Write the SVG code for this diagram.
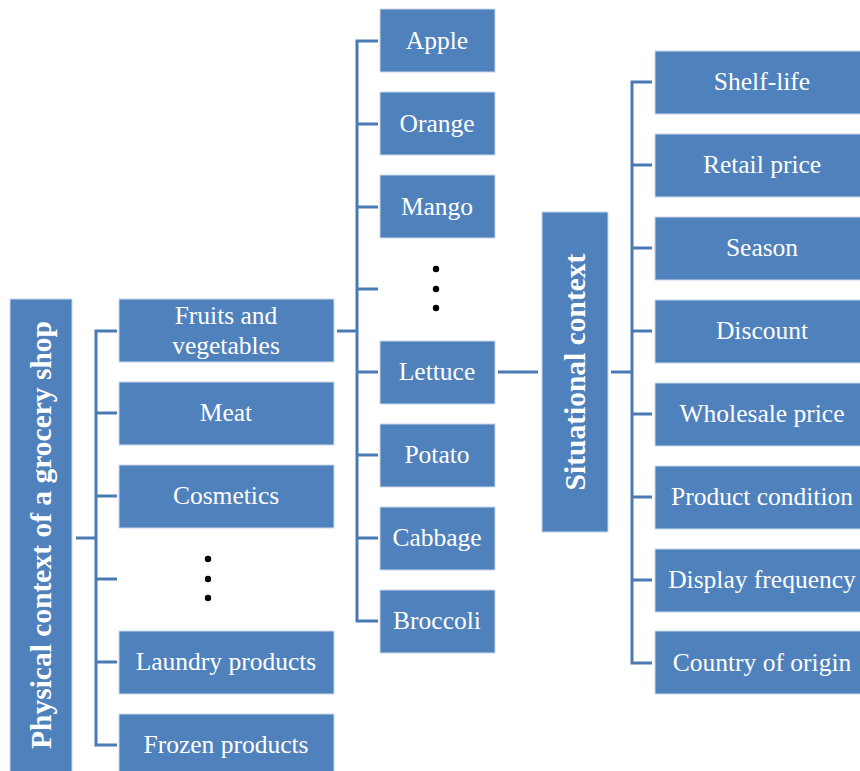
<svg xmlns="http://www.w3.org/2000/svg" width="860" height="771" viewBox="0 0 860 771">
  <style>
    .box { fill: #4f81bd; stroke: #c9d7ea; stroke-width: 1; }
    .lbl { font-family: "Liberation Serif", "Times New Roman", serif; font-size: 25.5px; fill: #ffffff; text-anchor: middle; dominant-baseline: central; }
    .vlbl { font-family: "Liberation Serif", "Times New Roman", serif; font-size: 29.5px; font-weight: bold; fill: #ffffff; text-anchor: middle; dominant-baseline: central; }
    .wire { fill: none; stroke: #4a7ab4; stroke-width: 3; }
    .dot { fill: #000000; }
  </style>
  <rect width="860" height="771" fill="#ffffff"/>

  <!-- connectors -->
  <g id="connectors">
    <!-- root to categories -->
    <path class="wire" d="M76 538 H96"/>
    <path class="wire" d="M117 331 H96 V745 H117"/>
    <path class="wire" d="M96 413 H117 M96 496 H117 M96 579 H117 M96 662 H117"/>
    <!-- fruits and vegetables to items -->
    <path class="wire" d="M337 331 H357"/>
    <path class="wire" d="M378 41 H357 V621 H378"/>
    <path class="wire" d="M357 124 H378 M357 207 H378 M357 289 H378 M357 372 H378 M357 455 H378 M357 538 H378"/>
    <!-- lettuce to situational context -->
    <path class="wire" d="M498 372 H538"/>
    <!-- situational context to factors -->
    <path class="wire" d="M611 372 H632"/>
    <path class="wire" d="M652 82 H632 V663 H652"/>
    <path class="wire" d="M632 165 H652 M632 248 H652 M632 331 H652 M632 414 H652 M632 497 H652 M632 580 H652"/>
  </g>

  <!-- root -->
  <g id="physical-context">
    <rect class="box" x="10" y="299" width="62" height="480"/>
    <text class="vlbl" transform="translate(41 535) rotate(-90)">Physical context of a grocery shop</text>
  </g>

  <!-- categories -->
  <g id="fruits-vegetables">
    <rect class="box" x="119" y="299" width="215" height="63"/>
    <text class="lbl" x="226" y="315">Fruits and</text>
    <text class="lbl" x="226" y="345">vegetables</text>
  </g>
  <g id="meat">
    <rect class="box" x="119" y="382" width="215" height="63"/>
    <text class="lbl" x="226" y="412">Meat</text>
  </g>
  <g id="cosmetics">
    <rect class="box" x="119" y="465" width="215" height="63"/>
    <text class="lbl" x="226" y="495">Cosmetics</text>
  </g>
  <g id="more-categories">
    <circle class="dot" cx="208" cy="559" r="3.2"/>
    <circle class="dot" cx="208" cy="579" r="3.2"/>
    <circle class="dot" cx="208" cy="598" r="3.2"/>
  </g>
  <g id="laundry">
    <rect class="box" x="119" y="631" width="215" height="63"/>
    <text class="lbl" x="226" y="661">Laundry products</text>
  </g>
  <g id="frozen">
    <rect class="box" x="119" y="714" width="215" height="63"/>
    <text class="lbl" x="226" y="744">Frozen products</text>
  </g>

  <!-- fruit and vegetable items -->
  <g id="apple">
    <rect class="box" x="380" y="9" width="115" height="63"/>
    <text class="lbl" x="437" y="40">Apple</text>
  </g>
  <g id="orange">
    <rect class="box" x="380" y="92" width="115" height="63"/>
    <text class="lbl" x="437" y="123">Orange</text>
  </g>
  <g id="mango">
    <rect class="box" x="380" y="175" width="115" height="63"/>
    <text class="lbl" x="437" y="206">Mango</text>
  </g>
  <g id="more-items">
    <circle class="dot" cx="436" cy="269" r="3.2"/>
    <circle class="dot" cx="436" cy="289" r="3.2"/>
    <circle class="dot" cx="436" cy="308" r="3.2"/>
  </g>
  <g id="lettuce">
    <rect class="box" x="380" y="341" width="115" height="63"/>
    <text class="lbl" x="437" y="371">Lettuce</text>
  </g>
  <g id="potato">
    <rect class="box" x="380" y="424" width="115" height="63"/>
    <text class="lbl" x="437" y="454">Potato</text>
  </g>
  <g id="cabbage">
    <rect class="box" x="380" y="507" width="115" height="63"/>
    <text class="lbl" x="437" y="537">Cabbage</text>
  </g>
  <g id="broccoli">
    <rect class="box" x="380" y="590" width="115" height="63"/>
    <text class="lbl" x="437" y="620">Broccoli</text>
  </g>

  <!-- situational context -->
  <g id="situational-context">
    <rect class="box" x="542" y="212" width="66" height="320"/>
    <text class="vlbl" transform="translate(575 372) rotate(-90)">Situational context</text>
  </g>

  <!-- factors -->
  <g id="shelf-life">
    <rect class="box" x="655" y="51" width="210" height="63"/>
    <text class="lbl" x="762" y="81">Shelf-life</text>
  </g>
  <g id="retail-price">
    <rect class="box" x="655" y="134" width="210" height="63"/>
    <text class="lbl" x="762" y="164">Retail price</text>
  </g>
  <g id="season">
    <rect class="box" x="655" y="217" width="210" height="63"/>
    <text class="lbl" x="762" y="247">Season</text>
  </g>
  <g id="discount">
    <rect class="box" x="655" y="300" width="210" height="63"/>
    <text class="lbl" x="762" y="330">Discount</text>
  </g>
  <g id="wholesale-price">
    <rect class="box" x="655" y="383" width="210" height="63"/>
    <text class="lbl" x="762" y="413">Wholesale price</text>
  </g>
  <g id="product-condition">
    <rect class="box" x="655" y="466" width="210" height="63"/>
    <text class="lbl" x="762" y="496">Product condition</text>
  </g>
  <g id="display-frequency">
    <rect class="box" x="655" y="549" width="210" height="63"/>
    <text class="lbl" x="762" y="579">Display frequency</text>
  </g>
  <g id="country-of-origin">
    <rect class="box" x="655" y="631" width="210" height="63"/>
    <text class="lbl" x="762" y="662">Country of origin</text>
  </g>
</svg>
